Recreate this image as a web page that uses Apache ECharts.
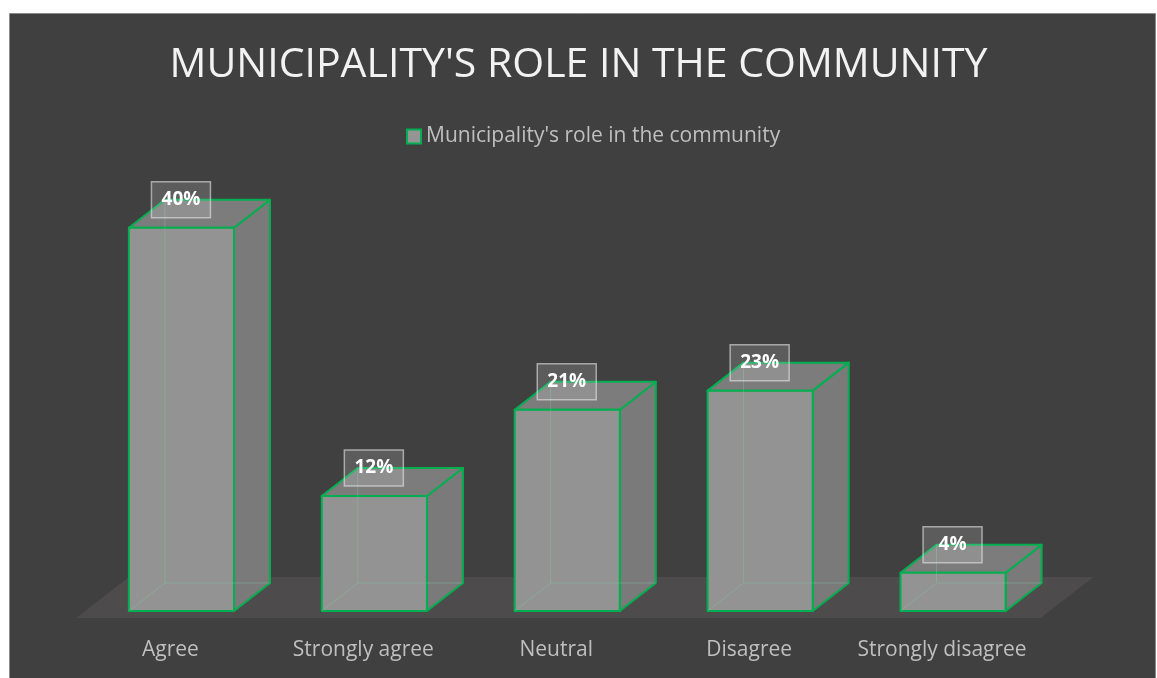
<!DOCTYPE html>
<html>
<head>
<meta charset="utf-8">
<script src="https://cdn.jsdelivr.net/npm/echarts@6/dist/echarts.min.js"></script>
<style>
html,body{margin:0;padding:0;background:#ffffff;}
#chart{width:1157px;height:678px;}
</style>
</head>
<body>
<div id="chart"></div>
<script>
const chartTitle = "MUNICIPALITY'S ROLE IN THE COMMUNITY";
const seriesName = "Municipality's role in the community";
const categories = ["Agree", "Strongly agree", "Neutral", "Disagree", "Strongly disagree"];
const values = [40, 12, 21, 23, 4];

const FONT = "'Open Sans', 'Noto Sans', sans-serif";
const GREEN = '#00b050';
const DX = 36, DY = -28;

const chart = echarts.init(document.getElementById('chart'));

function floorRender(params, api) {
  const first = api.coord([0, 0]);
  const last = api.coord([categories.length - 1, 0]);
  const band = api.size([1, 0])[0];
  const xl = first[0] - band / 2, xr = last[0] + band / 2, yb = first[1];
  return {
    type: 'polygon',
    shape: { points: [[xl - 9, yb + 7], [xr - 9, yb + 7], [xr + 44, yb - 34], [xl + 44, yb - 34]] },
    style: { fill: '#4d4b4b' },
    silent: true
  };
}

function barRender(params, api) {
  const idx = api.value(0), val = api.value(1);
  const p0 = api.coord([idx, 0]);
  const p1 = api.coord([idx, val]);
  const bw = api.size([1, 0])[0] * 0.545;
  const x0 = p0[0] - bw / 2, x1 = p0[0] + bw / 2, yb = p0[1], yt = p1[1];
  const edge = { stroke: GREEN, lineWidth: 2, lineJoin: 'round' };
  const hidden = { stroke: 'rgba(120,210,160,0.35)', lineWidth: 1 };
  const children = [
    { type: 'polygon', shape: { points: [[x1, yt], [x1 + DX, yt + DY], [x1 + DX, yb + DY], [x1, yb]] },
      style: Object.assign({ fill: '#7a7a7a' }, edge) },
    { type: 'polygon', shape: { points: [[x0, yt], [x0 + DX, yt + DY], [x1 + DX, yt + DY], [x1, yt]] },
      style: Object.assign({ fill: '#7c7c7c' }, edge) },
    { type: 'rect', shape: { x: x0, y: yt, width: bw, height: yb - yt },
      style: Object.assign({ fill: '#939393' }, edge) },
    { type: 'line', shape: { x1: x0, y1: yb, x2: x0 + DX, y2: yb + DY }, style: hidden },
    { type: 'line', shape: { x1: x0 + DX, y1: yb + DY, x2: x1 + DX, y2: yb + DY }, style: hidden },
    { type: 'line', shape: { x1: x0 + DX, y1: yb + DY, x2: x0 + DX, y2: yt + DY }, style: hidden },
    { type: 'rect', shape: { x: p0[0] - 30, y: yt + DY - 18, width: 59, height: 36 },
      style: { fill: 'rgba(255,255,255,0.15)', stroke: 'rgba(230,230,230,0.6)', lineWidth: 1.5 } },
    { type: 'text', x: p0[0] - 0.5, y: yt + DY,
      style: { text: val + '%', fill: '#ffffff', font: 'bold 19px ' + FONT, align: 'center', verticalAlign: 'middle' } }
  ];
  return { type: 'group', children: children };
}

const option = {
  backgroundColor: '#ffffff',
  animation: false,
  graphic: [{
    type: 'rect', z: -10, silent: true,
    shape: { x: 9.5, y: 13.5, width: 1146, height: 670 },
    style: { fill: '#404040', stroke: '#8a8a8a', lineWidth: 1 }
  }],
  title: {
    text: chartTitle,
    left: 'center', top: 40,
    textStyle: { color: '#f2f2f2', fontSize: 41, fontWeight: 'normal', fontFamily: FONT }
  },
  legend: {
    data: [seriesName],
    top: 121, left: 401,
    icon: 'rect', itemWidth: 14, itemHeight: 14,
    textStyle: { color: '#bfbfbf', fontSize: 21, fontFamily: FONT }
  },
  grid: { left: 85, right: 107.5, top: 132, bottom: 67 },
  xAxis: {
    type: 'category', data: categories,
    axisLine: { show: false }, axisTick: { show: false },
    axisLabel: { color: '#bfbfbf', fontSize: 21, fontFamily: FONT, margin: 29, interval: 0,
      padding: [0, 22, 0, 0] }
  },
  yAxis: { type: 'value', min: 0, max: 50, show: false, splitLine: { show: false } },
  series: [
    { type: 'custom', name: 'floor', renderItem: floorRender, data: [[0, 0]], silent: true, z: 1 },
    { type: 'custom', name: seriesName, renderItem: barRender,
      itemStyle: { color: '#959595', borderColor: GREEN, borderWidth: 2 },
      data: values.map((v, i) => [i, v]), z: 2 }
  ]
};
chart.setOption(option);
</script>
</body>
</html>
